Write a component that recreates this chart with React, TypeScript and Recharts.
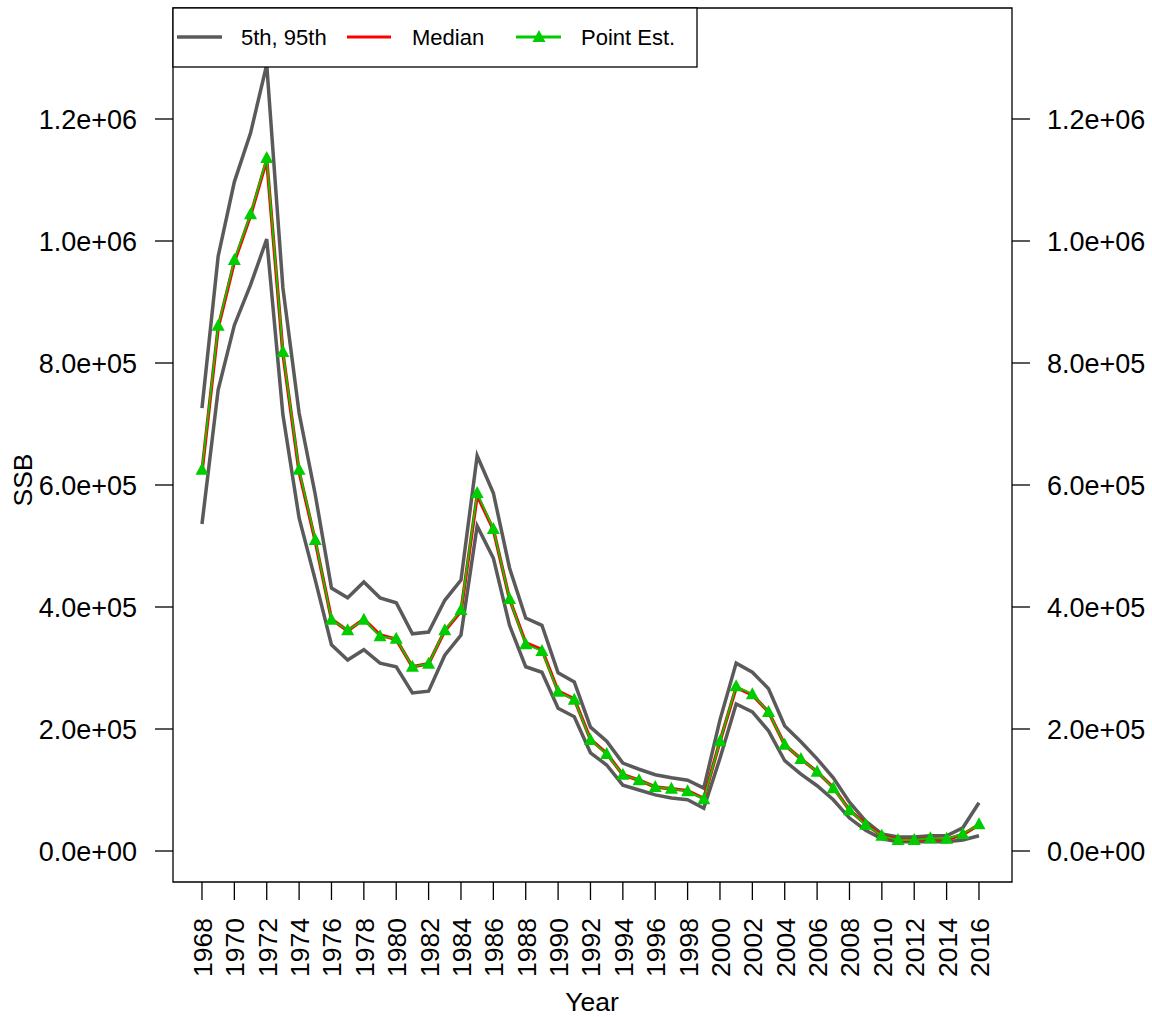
import React from "react";
import { LineChart, Line, XAxis, YAxis, ReferenceArea } from "recharts";

const years = [
  1968, 1969, 1970, 1971, 1972, 1973, 1974, 1975, 1976, 1977, 1978, 1979, 1980,
  1981, 1982, 1983, 1984, 1985, 1986, 1987, 1988, 1989, 1990, 1991, 1992, 1993,
  1994, 1995, 1996, 1997, 1998, 1999, 2000, 2001, 2002, 2003, 2004, 2005, 2006,
  2007, 2008, 2009, 2010, 2011, 2012, 2013, 2014, 2015, 2016,
];

// values in thousands
const upper = [
  726, 975, 1097, 1177, 1289, 923, 718, 584, 431, 415, 441, 415, 407, 356, 359,
  411, 444, 648, 587, 464, 382, 370, 292, 277, 203, 180, 144, 134, 125, 120, 116,
  103, 215, 308, 293, 266, 205, 179, 151, 120, 80, 49, 28, 23, 23, 25, 25, 38, 79,
];
const lower = [
  536, 756, 862, 928, 1003, 715, 546, 444, 338, 313, 330, 308, 302, 259, 262,
  321, 354, 533, 480, 370, 302, 293, 234, 220, 161, 141, 108, 100, 92, 87, 84,
  70, 152, 241, 228, 197, 148, 126, 107, 84, 54, 34, 20, 15, 15, 15, 15, 18, 25,
];
const median = [
  622, 858, 966, 1042, 1133, 816, 622, 508, 380, 361, 380, 354, 347, 302, 307,
  361, 393, 583, 527, 413, 341, 330, 262, 249, 183, 160, 125, 116, 105, 102, 99,
  86, 180, 268, 256, 228, 174, 151, 130, 104, 67, 44, 25, 18, 18, 20, 19, 27, 43,
];
const pointEst = [
  625, 861, 969, 1044, 1136, 818, 625, 510, 379, 362, 379, 352, 348, 302, 307,
  362, 395, 587, 528, 413, 339, 328, 261, 248, 182, 159, 125, 116, 105, 102, 98,
  85, 180, 270, 257, 228, 174, 151, 130, 103, 67, 43, 25, 18, 18, 21, 20, 28, 44,
];

const xTicks = years.filter((y) => y % 2 === 0);
const yTicks = [0, 200000, 400000, 600000, 800000, 1000000, 1200000];

const data = years.map((year, i) => ({
  year,
  lower: lower[i] * 1000,
  upper: upper[i] * 1000,
  median: median[i] * 1000,
  point: pointEst[i] * 1000,
}));

const FONT = "'Liberation Sans', Arial, sans-serif";
const GRAY = "#5a5a5a";
const RED = "#ff0000";
const GREEN = "#00cd00";

const xDomain = [1966.21, 2018.04];
const yDomain = [-50820, 1381967];

const sci = (v: number) => {
  const [m, e] = v.toExponential(1).split("e");
  const sign = e[0];
  const digits = e.slice(1).padStart(2, "0");
  return `${m}e${sign}${digits}`;
};

const YearTick = (props: any) => {
  const { x, y, payload } = props;
  return (
    <g transform={`translate(${x},${y}) rotate(-90)`}>
      <text x={0} y={10} textAnchor="end" fontSize={26.5} fontFamily={FONT} fill="#000">
        {payload.value}
      </text>
    </g>
  );
};

const Triangle = (props: any) => {
  const { cx, cy, index } = props;
  if (cx == null || cy == null) return <g key={index} />;
  return (
    <polygon
      key={index}
      points={`${cx},${cy - 7} ${cx - 6.5},${cy + 5} ${cx + 6.5},${cy + 5}`}
      fill={GREEN}
    />
  );
};

function Overlay() {
  return (
    <svg
      width={1152}
      height={1017}
      style={{ position: "absolute", left: 0, top: 0, pointerEvents: "none" }}
    >
      <rect x={173} y={8} width={524} height={59} fill="#fff" stroke="#000" strokeWidth={1.3} />
      <line x1={177} x2={222} y1={37} y2={37} stroke={GRAY} strokeWidth={3.5} />
      <text x={241} y={45} fontSize={22} fontFamily={FONT}>5th, 95th</text>
      <line x1={347} x2={391} y1={37} y2={37} stroke={RED} strokeWidth={3} />
      <text x={412} y={45} fontSize={22} fontFamily={FONT}>Median</text>
      <line x1={516} x2={561} y1={37} y2={37} stroke={GREEN} strokeWidth={3} />
      <polygon points="539,30 532.5,42 545.5,42" fill={GREEN} />
      <text x={581} y={45} fontSize={22} fontFamily={FONT}>Point Est.</text>
      <text x={592} y={1011} textAnchor="middle" fontSize={26.5} fontFamily={FONT}>
        Year
      </text>
      <text
        transform="translate(32,480) rotate(-90)"
        textAnchor="middle"
        fontSize={26.5}
        fontFamily={FONT}
      >
        SSB
      </text>
    </svg>
  );
}

export default function App() {
  return (
    <div style={{ position: "absolute", left: 0, top: 0, width: 1152, height: 1017, background: "#fff" }}>
      <LineChart
        width={1152}
        height={1017}
        data={data}
        margin={{ top: 8, right: 0, bottom: 15, left: 33 }}
      >
        <XAxis
          dataKey="year"
          type="number"
          domain={xDomain}
          allowDataOverflow
          ticks={xTicks}
          interval={0}
          height={120}
          tickSize={18}
          tickMargin={18}
          axisLine={false}
          tickLine={{ stroke: "#000", strokeWidth: 1.3 }}
          tick={<YearTick />}
        />
        <YAxis
          yAxisId="left"
          type="number"
          domain={yDomain}
          allowDataOverflow
          ticks={yTicks}
          interval={0}
          width={140}
          tickSize={18}
          tickMargin={18}
          axisLine={false}
          tickLine={{ stroke: "#000", strokeWidth: 1.3 }}
          tickFormatter={sci}
          tick={{ fontSize: 27, fontFamily: FONT, fill: "#000" }}
        />
        <YAxis
          yAxisId="right"
          orientation="right"
          type="number"
          domain={yDomain}
          allowDataOverflow
          ticks={yTicks}
          interval={0}
          width={140}
          tickSize={18}
          tickMargin={17}
          axisLine={false}
          tickLine={{ stroke: "#000", strokeWidth: 1.3 }}
          tickFormatter={sci}
          tick={{ fontSize: 27, fontFamily: FONT, fill: "#000" }}
        />
        <ReferenceArea
          yAxisId="left"
          x1={xDomain[0]}
          x2={xDomain[1]}
          y1={yDomain[0]}
          y2={yDomain[1]}
          fill="none"
          stroke="#000"
          strokeWidth={1.3}
          ifOverflow="visible"
        />
        <Line yAxisId="left" dataKey="upper" stroke={GRAY} strokeWidth={3.5} dot={false} isAnimationActive={false} />
        <Line yAxisId="left" dataKey="lower" stroke={GRAY} strokeWidth={3.5} dot={false} isAnimationActive={false} />
        <Line yAxisId="left" dataKey="median" stroke={RED} strokeWidth={3.5} dot={false} isAnimationActive={false} />
        <Line
          yAxisId="left"
          dataKey="point"
          stroke={GREEN}
          strokeWidth={1.8}
          dot={<Triangle />}
          isAnimationActive={false}
        />
      </LineChart>
      <Overlay />
    </div>
  );
}
